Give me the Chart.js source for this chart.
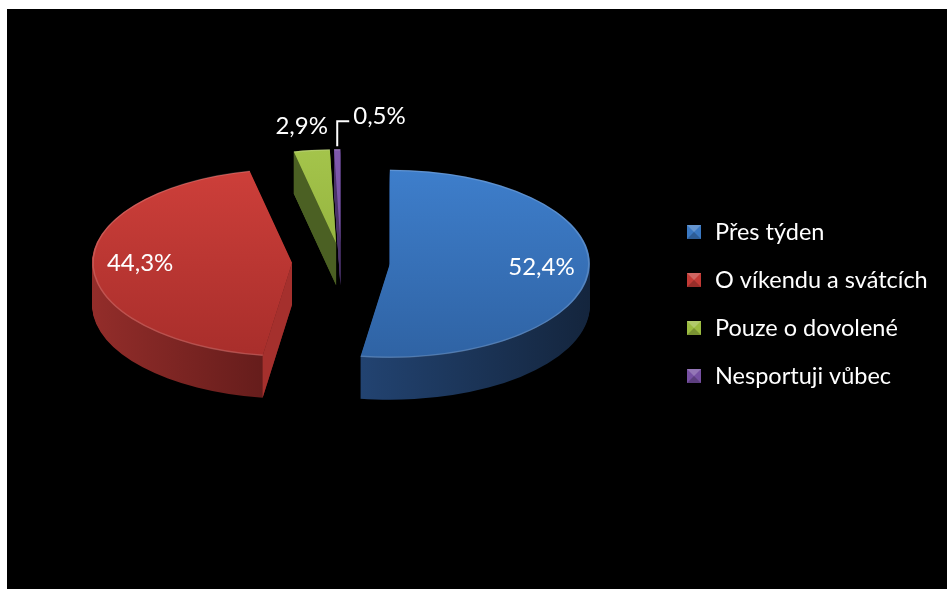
<!DOCTYPE html>
<html lang="cs">
<head>
<meta charset="utf-8">
<title>Kdy sportujete</title>
<script src="https://cdn.jsdelivr.net/npm/chart.js@4.4.1/dist/chart.umd.min.js"></script>
<style>
  html, body { margin: 0; padding: 0; background: #fff; }
  #plocha { position: absolute; left: 7px; top: 9px; width: 940px; height: 580px; background: #000; }
</style>
</head>
<body>
<div id="plocha"><canvas id="kolac"></canvas></div>
<script>
const kategorie = ['Přes týden', 'O víkendu a svátcích', 'Pouze o dovolené', 'Nesportuji vůbec'];
const podily = [52.4, 44.3, 2.9, 0.5];

// barvy: základ, horní plocha (světlá/tmavá), bok (světlý/tmavý), řez
const barvy = ['#3a78c2', '#c23a35', '#9bbb40', '#7650a2'];
const horniSvetla = ['#3e7ecb', '#cd3f3a', '#a4c44b', '#7f59ad'];
const horniTmava = ['#2f63a4', '#a82e2b', '#89a736', '#6a4795'];
const bokSvetly = ['#224371', '#932d2a', '#5a7229', '#553a7a'];
const bokTmavy = ['#14253d', '#5e1a19', '#3d4f1b', '#362450'];
const rez = ['#1c365a', '#a5302d', '#4b6023', '#4a3368'];

const NAKLON = 0.47;            // zploštění kruhu
const HLOUBKA = 42;             // výška boku v px
const ODSUN = [49, 49, 40, 40]; // vysunutí výsečí

function stred(arc) {
  return (arc.startAngle + arc.endAngle) / 2;
}

function posunuty(arc, i) {
  const m = stred(arc);
  return { x: arc.x + Math.cos(m) * ODSUN[i], y: arc.y + Math.sin(m) * ODSUN[i] * NAKLON };
}

// kopie výseče s jinou výplní, kreslí se metodou samotného ArcElementu
function kopie(arc, vypln) {
  const k = Object.create(arc);
  k.options = Object.assign({}, arc.options, { backgroundColor: vypln, borderWidth: 0, offset: 0 });
  return k;
}

function rozsahX(a0, a1) {
  let lo = 0, hi = 0;
  for (let t = a0; t <= a1; t += 0.01) {
    lo = Math.min(lo, Math.cos(t));
    hi = Math.max(hi, Math.cos(t));
  }
  lo = Math.min(lo, Math.cos(a1));
  hi = Math.max(hi, Math.cos(a1));
  return [lo, hi];
}

const kolac3d = {
  id: 'kolac3d',
  beforeDatasetsDraw(chart) {
    const ctx = chart.ctx;
    const arcs = chart.getDatasetMeta(0).data;
    const poradi = arcs.map((a, i) => i)
      .sort((a, b) => Math.sin(stred(arcs[a])) - Math.sin(stred(arcs[b])));

    poradi.forEach(i => {
      const arc = arcs[i];
      const { x, y, startAngle, endAngle, outerRadius: R } = arc;
      const o = posunuty(arc, i);

      // bok - vrstvy výseče posunuté dolů
      const ext = rozsahX(startAngle, endAngle);
      const gb = ctx.createLinearGradient(x + ext[0] * R, 0, x + ext[1] * R, 0);
      gb.addColorStop(0, bokSvetly[i]);
      gb.addColorStop(1, bokTmavy[i]);
      const bok = kopie(arc, gb);
      for (let k = HLOUBKA; k > 0; k--) {
        ctx.save();
        ctx.translate(o.x - x, o.y + k);
        ctx.scale(1, NAKLON);
        ctx.translate(0, -y);
        bok.draw(ctx);
        ctx.restore();
      }

      // viditelné řezy výseče
      [[startAngle, -1], [endAngle, 1]].forEach(([t, s]) => {
        if (s * Math.cos(t) <= 0.01) return;
        const rx = o.x + Math.cos(t) * R;
        const ry = o.y + Math.sin(t) * R * NAKLON;
        ctx.beginPath();
        ctx.moveTo(o.x, o.y);
        ctx.lineTo(rx, ry);
        ctx.lineTo(rx, ry + HLOUBKA);
        ctx.lineTo(o.x, o.y + HLOUBKA);
        ctx.closePath();
        ctx.fillStyle = rez[i];
        ctx.fill();
      });

      // horní plocha
      const gt = ctx.createLinearGradient(0, y - R, 0, y + R);
      gt.addColorStop(0, horniSvetla[i]);
      gt.addColorStop(1, horniTmava[i]);
      ctx.save();
      ctx.translate(o.x - x, o.y);
      ctx.scale(1, NAKLON);
      ctx.translate(0, -y);
      kopie(arc, gt).draw(ctx);
      ctx.restore();

      // světlá hrana na okraji
      ctx.save();
      ctx.beginPath();
      ctx.ellipse(o.x, o.y, R - 1, (R - 1) * NAKLON, 0, startAngle, endAngle);
      ctx.strokeStyle = 'rgba(255,255,255,0.16)';
      ctx.lineWidth = 1.5;
      ctx.stroke();
      ctx.restore();
    });
    return false;
  }
};

function znacka(ctx, x, y, a, barva) {
  ctx.fillStyle = barva;
  ctx.fillRect(x, y, a, a);
  ctx.beginPath();
  ctx.moveTo(x, y); ctx.lineTo(x + a, y); ctx.lineTo(x + a / 2, y + a / 2); ctx.closePath();
  ctx.fillStyle = 'rgba(255,255,255,0.22)';
  ctx.fill();
  ctx.beginPath();
  ctx.moveTo(x, y + a); ctx.lineTo(x + a, y + a); ctx.lineTo(x + a / 2, y + a / 2); ctx.closePath();
  ctx.fillStyle = 'rgba(0,0,0,0.22)';
  ctx.fill();
}

const popisky = {
  id: 'popisky',
  afterDraw(chart) {
    const ctx = chart.ctx;
    const arcs = chart.getDatasetMeta(0).data;
    ctx.save();
    ctx.fillStyle = '#fff';
    ctx.strokeStyle = '#fff';
    ctx.lineWidth = 2;
    ctx.font = '24px Lato';
    ctx.textBaseline = 'middle';

    arcs.forEach((arc, i) => {
      const text = podily[i].toFixed(1).replace('.', ',') + '%';
      const m = stred(arc);
      const o = posunuty(arc, i);
      const R = arc.outerRadius;
      if (podily[i] > 10) {
        const r = 0.76 * R;
        ctx.textAlign = 'center';
        ctx.fillText(text, o.x + Math.cos(m) * r, o.y + Math.sin(m) * r * NAKLON - 2);
      } else {
        const rx = o.x + Math.cos(m) * R;
        const ry = o.y + Math.sin(m) * R * NAKLON;
        if (podily[i] >= 1) {
          ctx.textAlign = 'center';
          ctx.fillText(text, rx - 10, ry - 24);
        } else {
          ctx.beginPath();
          ctx.moveTo(rx, ry - 3);
          ctx.lineTo(rx, ry - 28);
          ctx.lineTo(rx + 12, ry - 28);
          ctx.stroke();
          ctx.textAlign = 'left';
          ctx.fillText(text, rx + 16, ry - 33);
        }
      }
    });

    // legenda
    ctx.font = '23.5px Lato';
    ctx.textAlign = 'left';
    kategorie.forEach((nazev, i) => {
      const yy = 223 + i * 48;
      znacka(ctx, 680, yy - 7, 14, barvy[i]);
      ctx.fillStyle = '#fff';
      ctx.fillText(nazev, 708, yy);
    });
    ctx.restore();
  }
};

new Chart(document.getElementById('kolac'), {
  type: 'pie',
  data: {
    labels: kategorie,
    datasets: [{
      data: podily,
      backgroundColor: barvy,
      borderWidth: 0,
      radius: 200,
      clip: false
    }]
  },
  options: {
    responsive: true,
    maintainAspectRatio: false,
    animation: false,
    events: [],
    rotation: 0,
    layout: { padding: { left: 0, right: 272, top: 0, bottom: 74 } },
    plugins: {
      legend: { display: false },
      tooltip: { enabled: false }
    }
  },
  plugins: [kolac3d, popisky]
});
</script>
</body>
</html>
